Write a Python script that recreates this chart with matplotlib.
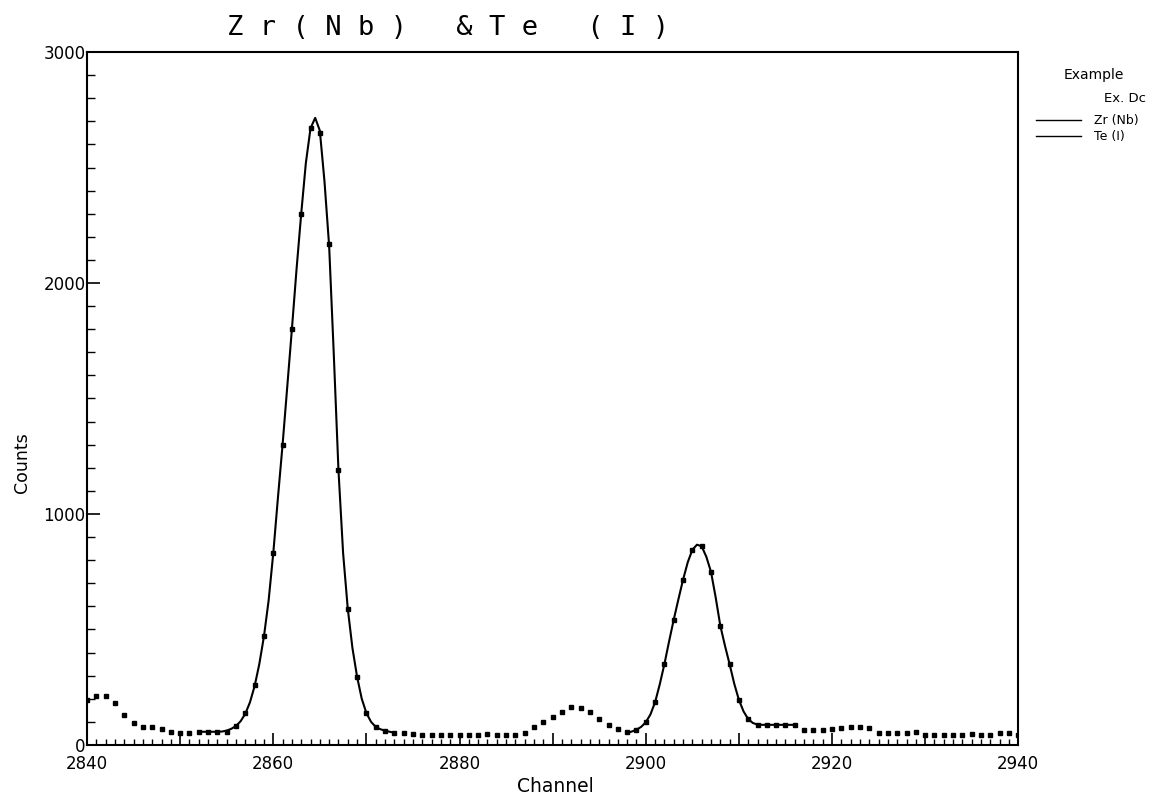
import numpy as np
import matplotlib
matplotlib.use("Agg")
import matplotlib.pyplot as plt
from matplotlib.ticker import MultipleLocator, FuncFormatter

# ---- data ----
channels = list(range(2840, 2941))
counts = [195, 212, 212, 180, 130, 94, 76, 76, 68, 58,          # 2840-2849
          53, 53, 57, 57, 57, 58, 82, 137, 258, 470,            # 2850-2859
          830, 1300, 1800, 2300, 2670, 2650, 2170, 1190, 590, 295,  # 2860-2869
          138, 78, 62, 53, 51, 48, 45, 44, 44, 44,              # 2870-2879
          44, 44, 45, 46, 44, 44, 45, 50, 79, 101,              # 2880-2889
          123, 144, 163, 159, 141, 111, 85, 69, 55, 66,         # 2890-2899
          98, 185, 350, 542, 715, 845, 860, 750, 517, 350,      # 2900-2909
          195, 112, 88, 87, 88, 87, 88, 65, 65, 65,             # 2910-2919
          68, 72, 79, 79, 72, 53, 50, 50, 53, 55,               # 2920-2929
          43, 43, 43, 43, 43, 48, 43, 43, 50, 50,               # 2930-2939
          45]                                                   # 2940

zr_start, zr_stop = 2852.0, 2873.0
zr_fit = [57, 57, 57, 57, 57, 58, 62, 70, 82, 103,
          135, 185, 255, 350, 470, 625, 830, 1070, 1300, 1550,
          1800, 2060, 2300, 2520, 2670, 2715, 2660, 2440, 2160, 1690,
          1190, 830, 590, 420, 295, 200, 138, 100, 78, 68,
          62, 57, 53]

te_start, te_stop = 2898.0, 2916.0
te_fit = [52, 58, 66, 78, 98, 132, 185, 262, 350, 448,
          542, 630, 715, 790, 845, 867, 860, 815, 750, 640,
          517, 430, 350, 265, 195, 145, 112, 95, 88, 87,
          87, 87, 87, 87, 87, 87, 87]

title = "Z r ( N b )   & T e   ( I )"
xlabel = "Channel"
ylabel = "Counts"
legend_title = "Example"
legend_sub = "Ex. Dc"
legend_labels = ["Zr (Nb)", "Te (I)"]

# ---- figure ----
fig = plt.figure(figsize=(11.54, 8.01), dpi=100)
ax = fig.add_axes([0.0754, 0.070, 0.807, 0.865])

zr_x = np.arange(zr_start, zr_stop + 0.25, 0.5)
te_x = np.arange(te_start, te_stop + 0.25, 0.5)

ax.plot(channels, counts, linestyle="none", marker="s", markersize=2.6,
        color="black", zorder=3)
l_zr, = ax.plot(zr_x, zr_fit, color="black", linewidth=1.5, zorder=2)
l_te, = ax.plot(te_x, te_fit, color="black", linewidth=1.5, zorder=2)

ax.set_xlim(2840, 2940)
ax.set_ylim(0, 3000)

ax.xaxis.set_major_locator(MultipleLocator(10))
ax.xaxis.set_minor_locator(MultipleLocator(1))
ax.xaxis.set_major_formatter(FuncFormatter(
    lambda v, p: f"{int(round(v))}" if int(round(v)) % 20 == 0 else ""))
ax.yaxis.set_major_locator(MultipleLocator(1000))
ax.yaxis.set_minor_locator(MultipleLocator(100))

ax.tick_params(axis="x", which="major", direction="in", length=9, width=1.2,
               labelsize=12, pad=7, top=False)
ax.tick_params(axis="x", which="minor", direction="in", length=4.5, width=1.0,
               top=False)
ax.tick_params(axis="y", which="major", direction="in", length=9.5, width=1.2,
               labelsize=12, pad=1, right=False)
ax.tick_params(axis="y", which="minor", direction="in", length=6, width=1.0,
               right=False)

for s in ax.spines.values():
    s.set_linewidth(1.5)

ax.set_xlabel(xlabel, fontsize=13.5)
ax.xaxis.set_label_coords(0.503, -0.046)
ax.set_ylabel(ylabel, fontsize=12.5)
ax.yaxis.set_label_coords(-0.06, 0.407)

fig.text(227 / 1154, 1 - 35 / 801, title, fontsize=19.5,
         family="DejaVu Sans Mono", ha="left", va="baseline")

fig.text(1094 / 1154, 1 - 75 / 801, legend_title, fontsize=10,
         ha="center", va="center")
fig.text(1146 / 1154, 1 - 98 / 801, legend_sub, fontsize=9.5,
         ha="right", va="center")
leg = fig.legend([l_zr, l_te], legend_labels,
                 loc="upper left", bbox_to_anchor=(1036 / 1154, 1 - 114 / 801),
                 frameon=False, fontsize=9, borderpad=0, borderaxespad=0,
                 handlelength=3.6, handletextpad=1.0, labelspacing=0.25)
for h in leg.legend_handles:
    h.set_linewidth(1.0)

fig.savefig("out.png", dpi=100)
